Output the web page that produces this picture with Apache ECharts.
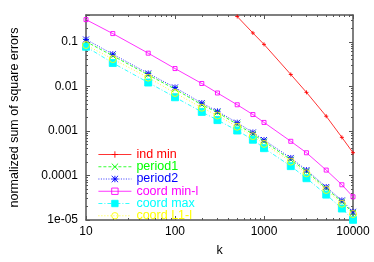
<!DOCTYPE html>
<html><head><meta charset="utf-8">
<script src="https://cdn.jsdelivr.net/npm/echarts@6/dist/echarts.min.js"></script>
<style>html,body{margin:0;padding:0;background:#fff}#c{width:374px;height:262px}</style>
</head><body><div id="c"></div>
<script>
const kValues = [10,20,50,100,200,300,500,750,1000,2000,3000,5000,7500,10000];
const indMinK = [500,750,1000,2000,3000,5000,7500,10000];
const indMin = [0.37,0.158,0.0877,0.0185,0.00734,0.00214,0.000716,0.000324];
const period1 = [0.101,0.0485,0.0181,0.00867,0.00386,0.00258,0.0014,0.000846,0.000578,0.000226,0.000124,5.1e-5,2.57e-5,1.44e-5];
const period2 = [0.113,0.0528,0.0195,0.00946,0.00421,0.00275,0.00153,0.000923,0.000625,0.000247,0.000132,5.5e-5,2.75e-5,1.53e-5];
const coordMinL = [0.315,0.153,0.0556,0.0251,0.0116,0.0071,0.00386,0.00233,0.00155,0.000585,0.000323,0.000132,6.18e-5,3.32e-5];
const coordMax = [0.0776,0.0335,0.0122,0.0057,0.00267,0.00175,0.00102,0.000634,0.00041,0.000162,8.67e-5,3.72e-5,1.81e-5,1.01e-5];
const coordL1L = [0.0846,0.041,0.0157,0.0071,0.00332,0.00222,0.00124,0.000765,0.000511,0.000205,0.000112,4.72e-5,2.32e-5,1.36e-5];
const xTickLabels = ['10','100','1000','10000'];
const yTickLabels = ['1e-05','0.0001','0.001','0.01','0.1'];

const FONT = '"Liberation Sans", Arial, Helvetica, sans-serif';
const AX = '#555';
function pair(xs, ys){ return xs.map((x,i)=>[x, ys[i]]); }
function decLabel(arr, off){
  return function(v){
    const l = Math.log10(v), e = Math.round(l);
    if (Math.abs(l-e) > 1e-6) return '';
    const s = arr[e+off];
    return s === undefined ? '' : s;
  };
}
const tickCommon = {show:true, inside:true, length:4, lineStyle:{color:AX, width:1}};
const minorCommon = {show:true, splitNumber:9, length:2, lineStyle:{color:AX, width:1}};
const lineCommon = {show:true, lineStyle:{color:AX, width:1.5}};

const SYM = {
  plus:'path://M0,5L10,5M5,0L5,10',
  cross:'path://M0,0L10,10M10,0L0,10',
  star:'path://M0,0L10,10M10,0L0,10M5,0L5,10M0,5L10,5'
};

function mk(name, color, ys, xs, symbol, size, type, filled){
  return {
    name, type:'line', data: pair(xs || kValues, ys), color,
    symbol, symbolSize:size, showAllSymbol:true,
    lineStyle:{color, width:0.8, type},
    itemStyle:{color: filled ? color : 'rgba(0,0,0,0)', borderColor:color, borderWidth:0.9},
    emphasis:{disabled:true}, animation:false, clip:true
  };
}
function lg(name, color, filled, type){
  return {name, textStyle:{color},
    itemStyle:{color: filled ? color : 'rgba(0,0,0,0)', borderColor:color, borderWidth:0.9},
    lineStyle:{color, width:0.8, type}};
}

const chart = echarts.init(document.getElementById('c'), null, {renderer:'canvas'});
chart.setOption({
  backgroundColor:'#fff',
  animation:false,
  grid:{left:78, right:21, top:15, bottom:38, containLabel:false},
  xAxis:[
    {type:'log', logBase:10, min:10, max:10000, position:'bottom',
     name:'k', nameLocation:'middle', nameGap:24, nameTextStyle:{fontFamily:FONT, fontSize:12.5, color:'#000'},
     axisLine:lineCommon, axisTick:tickCommon, minorTick:minorCommon, splitLine:{show:false},
     axisLabel:{margin:6, fontFamily:FONT, fontSize:12, color:'#000', formatter:decLabel(xTickLabels,-1)}},
    {type:'log', logBase:10, min:10, max:10000, position:'top',
     axisLine:lineCommon, axisTick:tickCommon, minorTick:minorCommon, splitLine:{show:false},
     axisLabel:{show:false}}
  ],
  yAxis:[
    {type:'log', logBase:10, min:1e-5, max:0.4, position:'left',
     name:'normalized sum of square errors', nameLocation:'middle', nameGap:65, nameRotate:90,
     nameTextStyle:{fontFamily:FONT, fontSize:12.5, color:'#000'},
     axisLine:lineCommon, axisTick:tickCommon, minorTick:minorCommon, splitLine:{show:false},
     axisLabel:{margin:8, fontFamily:FONT, fontSize:12, color:'#000', formatter:decLabel(yTickLabels,5)}},
    {type:'log', logBase:10, min:1e-5, max:0.4, position:'right',
     axisLine:lineCommon, axisTick:tickCommon, minorTick:minorCommon, splitLine:{show:false},
     axisLabel:{show:false}}
  ],
  legend:{
    orient:'vertical', left:93, top:143, itemWidth:33, itemHeight:8, itemGap:-0.75,
    textStyle:{fontFamily:FONT, fontSize:12.5, lineHeight:12},
    data:[
      lg('ind min', '#ff0000', false, 'solid'),
      lg('period1', '#00ff00', false, [3,2]),
      lg('period2', '#0000ff', false, [1,1.5]),
      lg('coord min-l', '#ff00ff', false, 'solid'),
      lg('coord max', '#00ffff', true, [4,2,1,2]),
      lg('coord L1-l', '#ffff00', false, [1,2])
    ],
    selectedMode:false
  },
  series:[
    mk('ind min', '#ff0000', indMin, indMinK, SYM.plus, 4, 'solid', false),
    mk('period1', '#00ff00', period1, null, SYM.cross, 6, [3,2], false),
    mk('period2', '#0000ff', period2, null, SYM.star, 6, [1,1.5], false),
    mk('coord min-l', '#ff00ff', coordMinL, null, 'rect', 4, 'solid', false),
    mk('coord max', '#00ffff', coordMax, null, 'rect', 7, [4,2,1,2], true),
    mk('coord L1-l', '#ffff00', coordL1L, null, 'circle', 7, [1,2], false)
  ]
});
</script></body></html>
